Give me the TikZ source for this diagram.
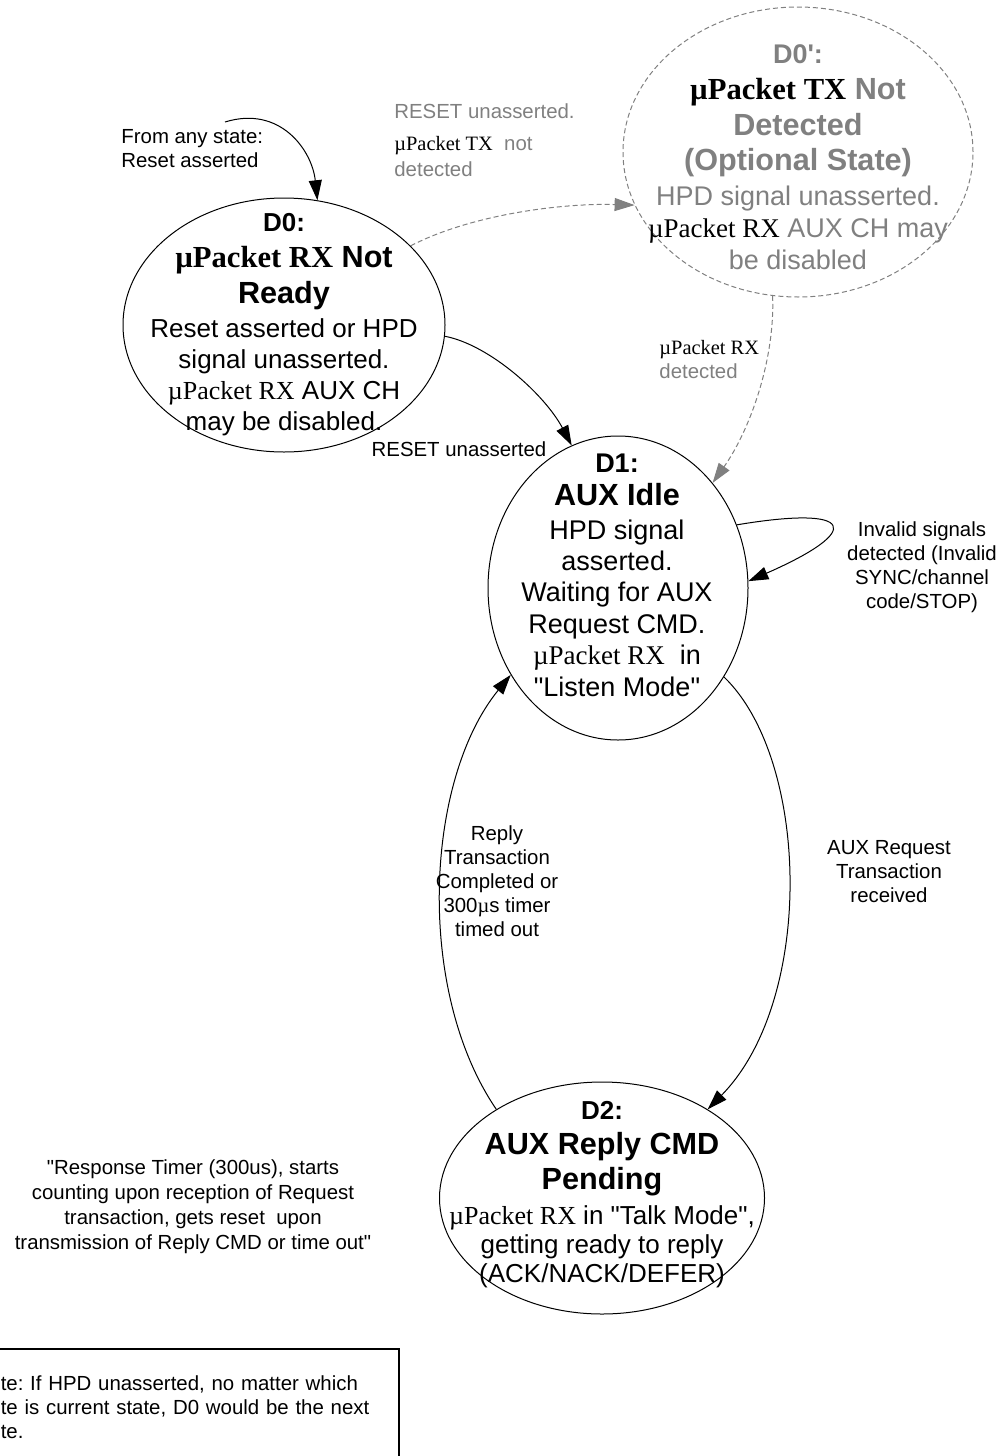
\documentclass[tikz,border=0pt]{standalone}
\usepackage{fontspec}
\setmainfont{Liberation Sans}[Ligatures=TeXOff]
\newfontfamily\tms{Liberation Serif}
\usetikzlibrary{arrows.meta,shapes.geometric}

\definecolor{gry}{HTML}{808080}
\newcommand{\rx}{{\tms µPacket RX}}
\newcommand{\tx}{{\tms µPacket TX}}
\newcommand{\ttl}{\fontsize{15.3pt}{18pt}\selectfont\bfseries}
\newcommand{\lbl}{\fontsize{10.2pt}{12pt}\selectfont}

\begin{document}
\begin{tikzpicture}[x=0.5pt,y=-0.5pt,>={Triangle[length=10pt,width=6.5pt]},
  state/.style={draw,ellipse,line width=0.5pt,inner sep=0pt},
  txt/.style={align=center,inner sep=0pt},
  trans/.style={->,line width=0.5pt},
  opt/.style={->,line width=0.5pt,draw=gry,dash pattern=on 2.5pt off 1.5pt}]
\useasboundingbox (0,0) rectangle (1003,1456);
\clip (0,0) rectangle (1003,1456);

% states
\node[state,minimum width=161pt,minimum height=127pt] (d0) at (284,325) {};
\node[state,draw=gry,dash pattern=on 2.5pt off 1.5pt,minimum width=175pt,minimum height=145pt] (d0p) at (798,152) {};
\node[state,minimum width=130pt,minimum height=152pt] (d1) at (618,588) {};
\node[state,minimum width=162.5pt,minimum height=116pt] (d2) at (602,1198) {};

\node[txt,font=\fontsize{13pt}{15.5pt}\selectfont] (d0t) at (284,325)
 {{\bfseries D0:}\\[2.5pt]{\ttl\rx{} Not}\\[2.5pt]{\ttl Ready}\\[1.5pt]Reset asserted or HPD\\signal unasserted.\\\rx{} AUX CH\\may be disabled.};
\node[txt,text=gry,font=\fontsize{13.5pt}{16pt}\selectfont] (d0pt) at (798,157)
 {{\bfseries D0':}\\[2pt]{\ttl{\color{black}\tx} Not}\\[2pt]{\ttl Detected}\\[1.5pt]{\ttl (Optional State)}\\[1.5pt]HPD signal unasserted.\\{\color{black}\rx} AUX CH may\\be disabled};
\node[txt,font=\fontsize{13.5pt}{15.7pt}\selectfont] (d1t) at (617,575)
 {{\bfseries D1:}\\[1pt]{\ttl AUX Idle}\\[1pt]HPD signal\\asserted.\\Waiting for AUX\\Request CMD.\\\rx{}\ \ in\\"Listen Mode"};
\node[txt,font=\fontsize{13pt}{14.5pt}\selectfont] (d2t) at (602,1195)
 {{\bfseries D2:}\\[3pt]{\ttl AUX Reply CMD}\\[3pt]{\ttl Pending}\\[3pt]\rx{} in "Talk Mode",\\getting ready to reply\\(ACK/NACK/DEFER)};

% transitions
\coordinate (rst) at (225,122);
\node[txt,align=left,anchor=west,font=\lbl] (lany) at (121,149) {From any state:\\Reset asserted};
\draw[trans] (rst) .. controls (280,105) and (312,150) .. (d0.75);

\draw[opt] (d0.32) .. controls (470,215) and (560,203) .. (d0p.198);
\node[txt,align=left,anchor=west,font=\lbl,text=gry] (lnotx) at (394,140)
 {RESET unasserted.\\[4pt]{\color{black}\tx}\ \ not\\[1pt]detected};

\draw[trans] (d0.-4) .. controls (490,345) and (545,395) .. (d1.108);
\node[txt,font=\lbl] (lrst) at (459,449) {RESET unasserted};

\draw[opt] (d0p.-100) .. controls (775,360) and (750,430) .. (d1.48);
\node[txt,align=left,anchor=west,font=\lbl,text=gry] (ldet) at (659,360)
 {{\color{black}\rx}\\detected};

\draw[trans] (d1.28) .. controls (855,505) and (865,530) .. (d1.3);
\node[txt,font=\lbl] (linv) at (922,567)
 {Invalid signals\\detected (Invalid\\SYNC/channel\\code/STOP)};

\draw[trans] (d1.-40) .. controls (810,760) and (815,1000) .. (d2.40);
\node[txt,font=\lbl] (lreq) at (889,872) {AUX Request\\Transaction\\received};

\draw[trans] (d2.140) .. controls (415,990) and (425,780) .. (d1.219);
\node[txt,font=\lbl] (lrep) at (497,881)
 {Reply\\Transaction\\Completed or\\300{\tms µ}s timer\\timed out};

% remarks
\node[txt,font=\fontsize{10.2pt}{12.5pt}\selectfont] (ltimer) at (193,1207)
 {"Response Timer (300us), starts\\counting upon reception of Request\\transaction, gets reset\ \ upon\\transmission of Reply CMD or time out"};
\node[draw,line width=0.75pt,anchor=north west,align=left,text width=189pt,
  inner xsep=10pt,inner ysep=13.5pt,font=\lbl\frenchspacing] (note) at (-20,1348)
 {te: If HPD unasserted, no matter which\\te is current state, D0 would be the next\\te.};
\end{tikzpicture}
\end{document}
